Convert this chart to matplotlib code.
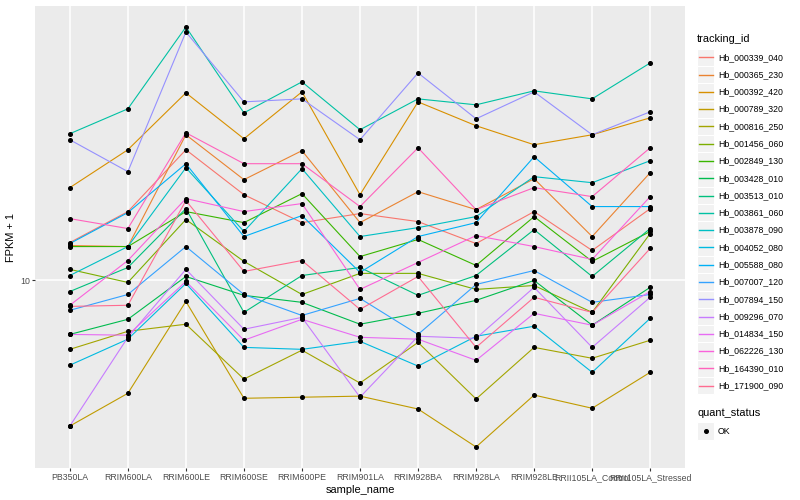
import numpy as np
import matplotlib
matplotlib.use("Agg")
import matplotlib.pyplot as plt
from matplotlib.lines import Line2D
from matplotlib.patches import Rectangle
from matplotlib.ticker import FixedLocator, FixedFormatter, NullLocator

plt.rcParams['font.family'] = ['Liberation Sans Narrow', 'Liberation Sans', 'DejaVu Sans']

samples = ["PB350LA", "RRIM600LA", "RRIM600LE", "RRIM600SE", "RRIM600PE",
           "RRIM901LA", "RRIM928BA", "RRIM928LA", "RRIM928LE",
           "RRII105LA_Control", "RRII105LA_Stressed"]

tracking_ids = ["Hb_000339_040", "Hb_000365_230", "Hb_000392_420", "Hb_000789_320",
                "Hb_000816_250", "Hb_001456_060", "Hb_002849_130", "Hb_003428_010",
                "Hb_003513_010", "Hb_003861_060", "Hb_003878_090", "Hb_004052_080",
                "Hb_005588_080", "Hb_007007_120", "Hb_007894_150", "Hb_009296_070",
                "Hb_014834_150", "Hb_062226_130", "Hb_164390_010", "Hb_171900_090"]

# ggplot default hue palette for 20 levels
colors = ["#F8766D", "#EA8331", "#D89000", "#C09B00", "#A3A500", "#7CAE00", "#39B600",
          "#00BB4E", "#00BF7D", "#00C1A3", "#00BFC4", "#00BAE0", "#00B0F6", "#35A2FF",
          "#9590FF", "#C77CFF", "#E76BF3", "#FA62DB", "#FF62BC", "#FF6C91"]

# FPKM + 1 per sample (order of samples)
Hb_000339_040 = [12.09, 14.12, 19.25, 15.37, 13.36, 13.98, 13.43, 12.03, 14.12, 11.62, 14.33]
Hb_000365_230 = [11.91, 11.85, 20.75, 16.57, 19.16, 13.36, 15.60, 14.26, 16.65, 12.46, 17.16]
Hb_000392_420 = [15.92, 19.25, 25.60, 20.34, 25.73, 15.37, 24.47, 21.71, 19.74, 20.75, 22.59]
Hb_000789_320 = [4.82, 5.68, 9.00, 5.54, 5.57, 5.60, 5.25, 4.34, 5.63, 5.27, 6.31]
Hb_000816_250 = [7.08, 7.75, 8.03, 6.10, 7.05, 5.98, 7.33, 5.52, 7.15, 6.77, 7.41]
Hb_001456_060 = [10.57, 9.90, 13.57, 11.00, 9.32, 10.36, 10.36, 9.56, 9.75, 8.52, 12.65]
Hb_002849_130 = [11.85, 11.85, 14.12, 13.36, 15.45, 11.27, 12.28, 10.78, 13.77, 11.00, 12.78]
Hb_003428_010 = [7.63, 8.23, 10.20, 9.28, 8.96, 8.03, 8.48, 9.05, 10.00, 7.99, 9.66]
Hb_003513_010 = [9.46, 10.67, 14.33, 8.52, 10.25, 10.67, 9.28, 10.25, 12.90, 10.20, 12.97]
Hb_003861_060 = [20.86, 23.63, 35.61, 23.16, 27.05, 21.28, 24.84, 24.11, 25.86, 24.84, 29.74]
Hb_003878_090 = [10.25, 11.85, 17.59, 12.78, 17.51, 12.46, 13.03, 13.77, 16.82, 16.32, 18.22]
Hb_004052_080 = [6.54, 7.45, 9.85, 7.15, 7.08, 7.37, 6.51, 7.56, 7.95, 6.31, 8.27]
Hb_005588_080 = [12.03, 14.05, 17.95, 12.46, 13.84, 10.41, 12.46, 13.36, 18.59, 14.48, 14.48]
Hb_007007_120 = [8.61, 9.32, 11.85, 9.32, 8.39, 9.14, 7.63, 9.80, 10.51, 8.96, 9.32]
Hb_007894_150 = [20.24, 17.25, 34.73, 24.47, 24.84, 20.24, 28.29, 22.48, 25.73, 20.75, 23.28]
Hb_009296_070 = [4.82, 7.52, 10.57, 7.83, 8.31, 5.57, 7.56, 7.48, 9.66, 7.15, 9.19]
Hb_014834_150 = [7.63, 7.60, 9.95, 7.41, 8.23, 7.52, 7.45, 6.70, 8.48, 7.99, 9.46]
Hb_062226_130 = [8.83, 11.05, 15.07, 14.12, 14.70, 9.56, 10.94, 12.52, 11.85, 11.11, 15.22]
Hb_164390_010 = [13.63, 12.97, 20.96, 17.95, 17.95, 14.48, 19.44, 14.26, 15.92, 15.22, 19.44]
Hb_171900_090 = [8.78, 8.83, 14.92, 10.46, 11.05, 8.65, 10.20, 7.15, 9.19, 8.52, 11.74]

series = [Hb_000339_040, Hb_000365_230, Hb_000392_420, Hb_000789_320, Hb_000816_250,
          Hb_001456_060, Hb_002849_130, Hb_003428_010, Hb_003513_010, Hb_003861_060,
          Hb_003878_090, Hb_004052_080, Hb_005588_080, Hb_007007_120, Hb_007894_150,
          Hb_009296_070, Hb_014834_150, Hb_062226_130, Hb_164390_010, Hb_171900_090]

W, H = 800, 500
def fx(px):
    return px / W
def fy(py):
    return 1 - py / H

fig = plt.figure(figsize=(8, 5), dpi=100)
ax = fig.add_axes([fx(35), fy(468), fx(685) - fx(35), fy(6) - fy(468)])
ax.set_facecolor("#EBEBEB")
for s in ax.spines.values():
    s.set_visible(False)

x = np.arange(len(samples))
for vals, c in zip(series, colors):
    ax.plot(x, vals, color=c, lw=0.8, zorder=2)
for vals in series:
    ax.plot(x, vals, ls="none", marker="o", ms=2.6, color="black", zorder=3)

ax.set_yscale("log")
allv = np.concatenate([np.array(v) for v in series])
lo, hi = np.log10(allv.min()), np.log10(allv.max())
pad = 0.05 * (hi - lo)
ax.set_ylim(10 ** (lo - pad), 10 ** (hi + pad))
ax.set_xlim(-0.6, len(samples) - 0.4)

ax.yaxis.set_major_locator(FixedLocator([10]))
ax.yaxis.set_major_formatter(FixedFormatter(["10"]))
ax.yaxis.set_minor_locator(NullLocator())
ax.set_xticks(x)
ax.set_xticklabels(samples)
ax.grid(True, which="major", color="white", lw=1.1)
ax.set_axisbelow(True)
ax.tick_params(length=2, width=0.8, color="#333333", labelcolor="#4D4D4D",
               labelsize=6.3, pad=1.5)

ax.set_xlabel("sample_name", fontsize=7.9, labelpad=2)
ax.set_ylabel("FPKM + 1", fontsize=7.9, labelpad=3)

# legend (ggplot style), drawn in a figure-wide overlay axes
lax = fig.add_axes([0, 0, 1, 1], zorder=5)
lax.set_xlim(0, W)
lax.set_ylim(H, 0)
lax.axis("off")

lax.text(697, 39, "tracking_id", fontsize=7.9, va="center", ha="left")
key = 17.28
y0 = 57.3
for i, (name, c) in enumerate(zip(tracking_ids, colors)):
    yc = y0 + i * key
    lax.add_patch(Rectangle((697, yc - key / 2), key, key, facecolor="#F2F2F2",
                            edgecolor="white", lw=0.8, zorder=1))
    lax.plot([698.7, 712.6], [yc, yc], color=c, lw=1.0, zorder=2)
    lax.text(718, yc, name, fontsize=6.3, va="center", ha="left")

lax.text(697, 413, "quant_status", fontsize=7.9, va="center", ha="left")
yc = 431
lax.add_patch(Rectangle((697, yc - key / 2), key, key, facecolor="#F2F2F2",
                        edgecolor="white", lw=0.8, zorder=1))
lax.plot([705.6], [yc], marker="o", ms=2.6, color="black", zorder=2)
lax.text(718, yc, "OK", fontsize=6.3, va="center", ha="left")

fig.savefig("out.png", dpi=100)
